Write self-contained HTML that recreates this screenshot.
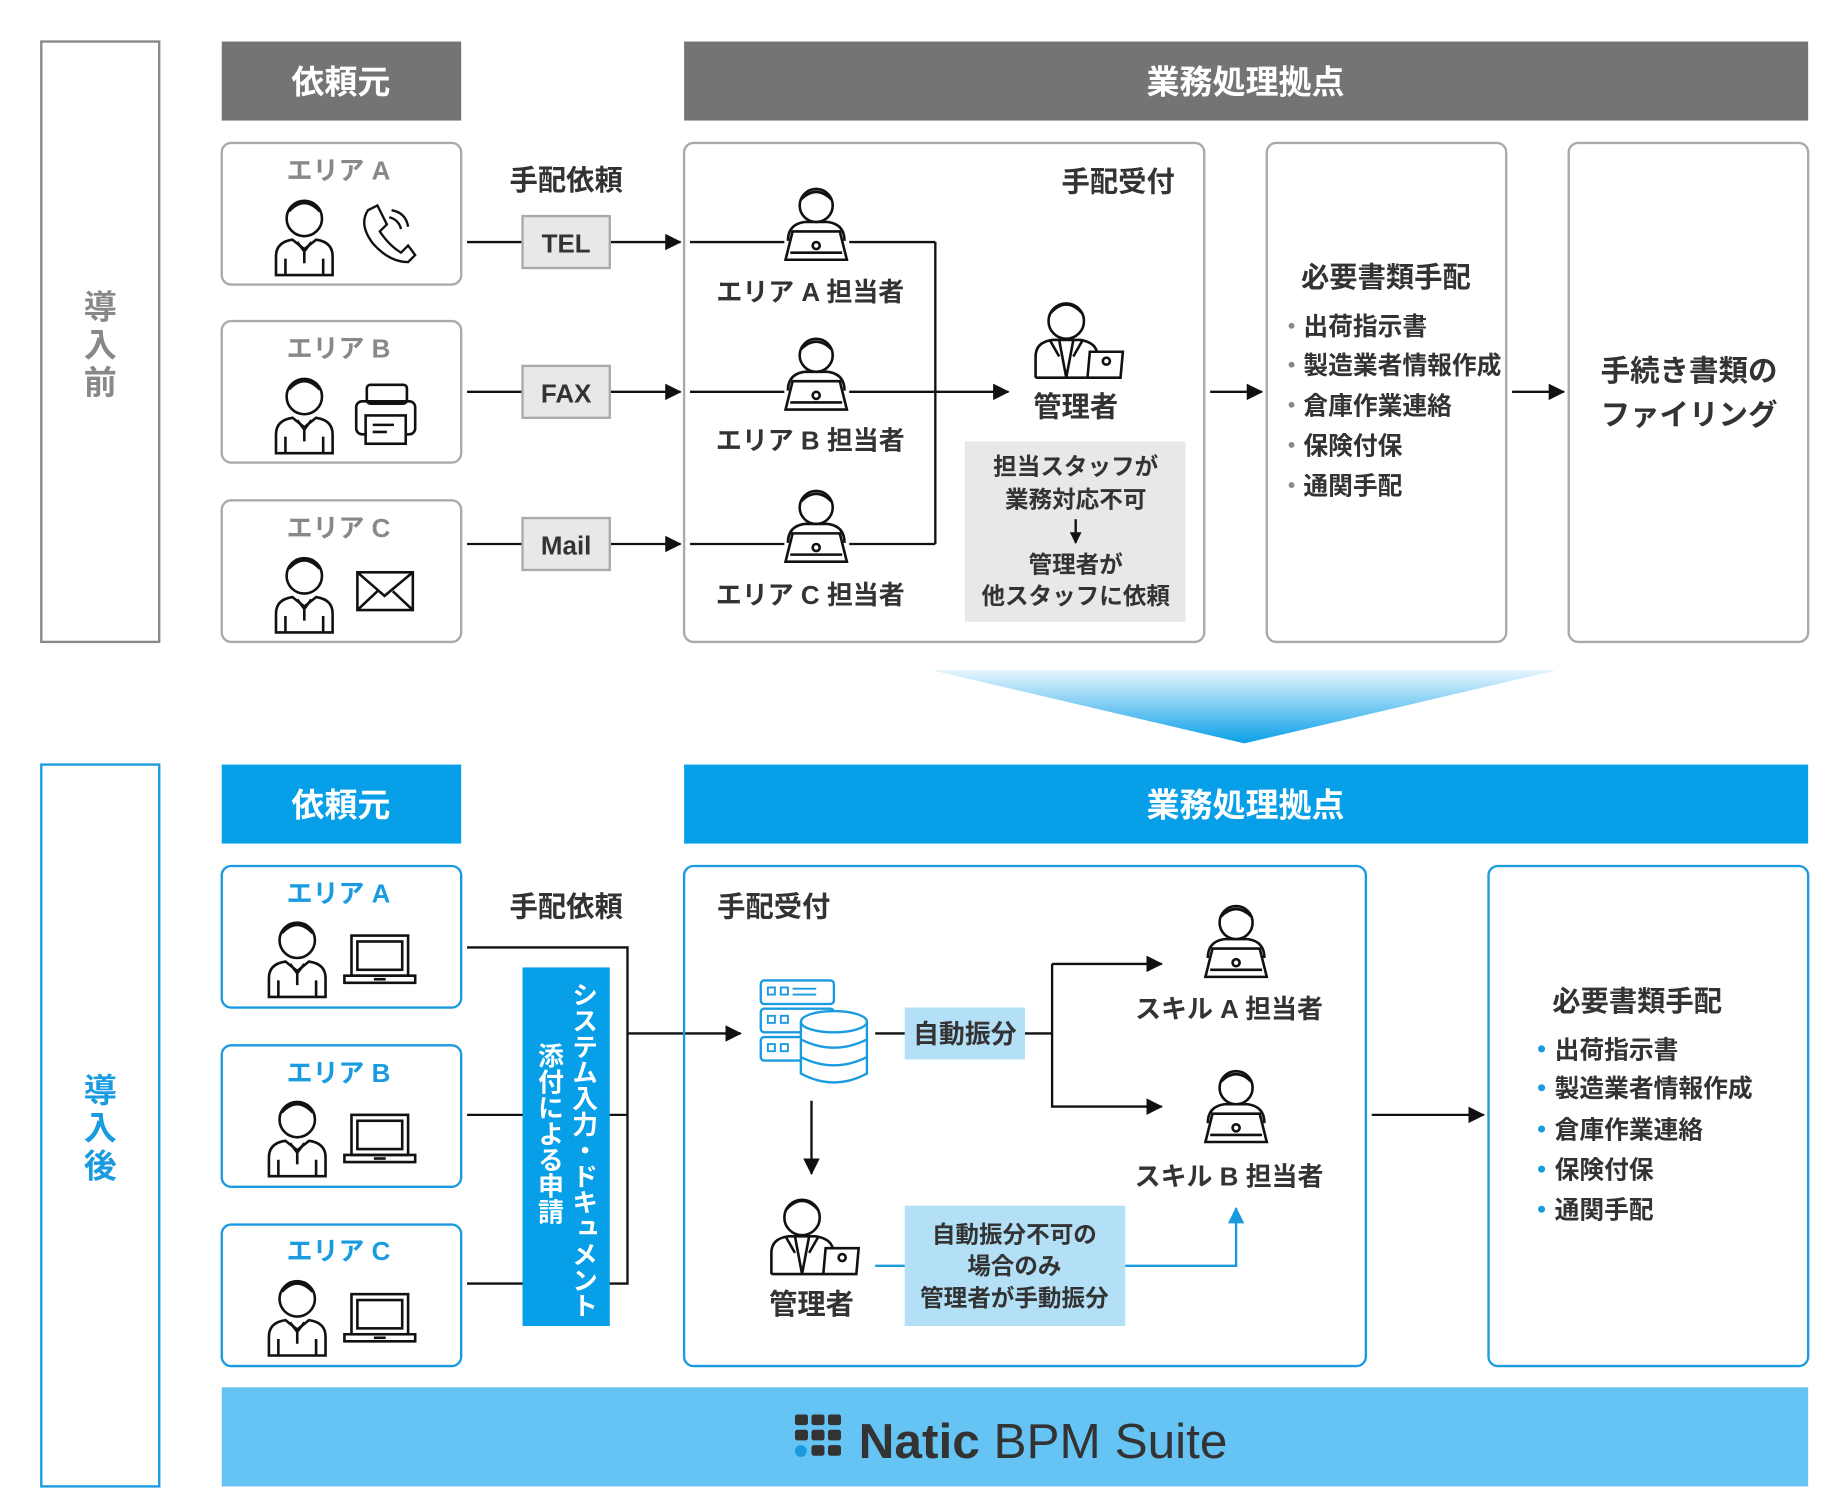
<!DOCTYPE html>
<html><head><meta charset="utf-8"><style>
html,body{margin:0;padding:0;background:#fff;}
svg{display:block;}
text{font-family:"Liberation Sans","Noto Sans CJK JP",sans-serif;font-weight:bold;}
</style></head><body>
<svg width="1840" height="1502" viewBox="0 0 1560 1273" xmlns="http://www.w3.org/2000/svg">
<defs>
<marker id="ar" markerWidth="10" markerHeight="10" refX="9" refY="5" orient="auto" markerUnits="userSpaceOnUse"><path d="M0,0L10,5L0,10Z" fill="#111"/></marker>
<marker id="arb" markerWidth="14" markerHeight="14" refX="13" refY="7" orient="auto" markerUnits="userSpaceOnUse"><path d="M0,0L14,7L0,14Z" fill="#111"/></marker>
<marker id="arl" markerWidth="14" markerHeight="14" refX="13" refY="7" orient="auto" markerUnits="userSpaceOnUse"><path d="M0,0L14,7L0,14Z" fill="#1a9be0"/></marker>
<linearGradient id="tg" x1="0" y1="0" x2="0" y2="1"><stop offset="0" stop-color="#e6f5fd"/><stop offset="1" stop-color="#0aa0e8"/></linearGradient>
<g id="person" fill="none" stroke="#111" stroke-width="2.2">
<circle cx="0" cy="-20" r="15"/>
<path d="M-13,-26 Q0,-40 13,-26"/>
<path d="M-24,28 L-24,12 Q-24,0 -10,-2 L0,6 L10,-2 Q24,0 24,12 L24,28 Z"/>
<path d="M-6,0 L0,8 L6,0 M0,8 L0,18 M-16,14 L-16,28 M16,14 L16,28"/>
</g>
<g id="worker" fill="none" stroke="#111" stroke-width="2.2">
<circle cx="0" cy="-18" r="14"/>
<path d="M-13,-23 Q0,-36 13,-23"/>
<path d="M-24,12 Q-24,-2 -10,-4 L10,-4 Q24,-2 24,12"/>
<path d="M-26,28 L-20,4 L20,4 L26,28 Z" fill="#fff"/>
<circle cx="0" cy="16" r="3"/>
<line x1="-22" y1="22" x2="22" y2="22"/>
</g>
<g id="manager" fill="none" stroke="#111" stroke-width="2.2">
<circle cx="-10" cy="-18" r="15"/>
<path d="M-24,-24 Q-10,-40 4,-24"/>
<path d="M-36,30 L-36,12 Q-36,0 -22,-2 L2,-2 Q14,0 16,8"/>
<path d="M-16,-2 L-10,30 L-4,-2 M-24,-2 L-16,12 M4,-2 L-4,12"/>
<path d="M10,8 L38,8 L36,30 L8,30 Z" fill="#fff"/><circle cx="24" cy="16" r="3"/>
<line x1="-36" y1="30" x2="8" y2="30"/>
</g>
<g id="laptop" fill="none" stroke="#111" stroke-width="2.2">
<rect x="-24" y="-22" width="48" height="34"/><rect x="-19" y="-17" width="38" height="24"/>
<path d="M-30,12 L30,12 L30,18 L-30,18 Z"/><line x1="-5" y1="15" x2="5" y2="15"/>
</g>
</defs>

<!-- ===== TOP ===== -->
<rect x="35" y="35" width="100" height="509" fill="none" stroke="#888" stroke-width="2"/>
<text x="85" y="270" font-size="28" fill="#888" text-anchor="middle">導</text>
<text x="85" y="302" font-size="28" fill="#888" text-anchor="middle">入</text>
<text x="85" y="334" font-size="28" fill="#888" text-anchor="middle">前</text>

<rect x="188" y="35" width="203" height="67" fill="#767374"/>
<text x="289" y="79" font-size="28" fill="#fff" text-anchor="middle">依頼元</text>
<rect x="580" y="35" width="953" height="67" fill="#767374"/>
<text x="1056" y="79" font-size="28" fill="#fff" text-anchor="middle">業務処理拠点</text>

<g fill="none" stroke="#aaa" stroke-width="2">
<rect x="188" y="121" width="203" height="120" rx="8"/>
<rect x="188" y="272" width="203" height="120" rx="8"/>
<rect x="188" y="424" width="203" height="120" rx="8"/>
</g>
<text x="287" y="152" font-size="22" fill="#888" text-anchor="middle">エリア A</text>
<text x="287" y="303" font-size="22" fill="#888" text-anchor="middle">エリア B</text>
<text x="287" y="455" font-size="22" fill="#888" text-anchor="middle">エリア C</text>
<use href="#person" x="258" y="205"/>
<use href="#person" x="258" y="356"/>
<use href="#person" x="258" y="508"/>
<path d="M312,178 L320,174 L328,190 L322,196 Q330,208 340,214 L346,208 L352,216 L346,222 Q330,222 316,206 Q304,190 312,178 Z" fill="none" stroke="#111" stroke-width="2"/>
<path d="M330,184 Q338,186 340,194 M332,178 Q344,180 346,192" fill="none" stroke="#111" stroke-width="2"/>
<g fill="none" stroke="#111" stroke-width="2.2"><rect x="311" y="326" width="34" height="16" rx="3"/><rect x="302" y="340" width="50" height="28" rx="5"/><rect x="310" y="352" width="34" height="24" fill="#fff"/><line x1="316" y1="360" x2="334" y2="360"/><line x1="316" y1="366" x2="328" y2="366"/></g>
<g fill="none" stroke="#111" stroke-width="2.2"><rect x="303" y="485" width="47" height="32"/><path d="M303,485 L326,505 L350,485 M303,517 L320,501 M350,517 L333,501"/></g>

<text x="480" y="161" font-size="24" fill="#333" text-anchor="middle">手配依頼</text>
<g stroke="#111" stroke-width="2" fill="none">
<line x1="396" y1="205" x2="443" y2="205"/><line x1="517" y1="205" x2="577" y2="205" marker-end="url(#arb)"/>
<line x1="396" y1="332" x2="443" y2="332"/><line x1="517" y1="332" x2="577" y2="332" marker-end="url(#arb)"/>
<line x1="396" y1="461" x2="443" y2="461"/><line x1="517" y1="461" x2="577" y2="461" marker-end="url(#arb)"/>
</g>
<g fill="#e8e8e8" stroke="#aaa" stroke-width="2">
<rect x="443" y="183" width="74" height="44"/><rect x="443" y="310" width="74" height="44"/><rect x="443" y="439" width="74" height="44"/>
</g>
<text x="480" y="214" font-size="22" fill="#333" text-anchor="middle">TEL</text>
<text x="480" y="341" font-size="22" fill="#333" text-anchor="middle">FAX</text>
<text x="480" y="470" font-size="22" fill="#333" text-anchor="middle">Mail</text>

<rect x="580" y="121" width="441" height="423" rx="8" fill="none" stroke="#aaa" stroke-width="2"/>
<text x="948" y="162" font-size="24" fill="#333" text-anchor="middle">手配受付</text>
<g stroke="#111" stroke-width="2" fill="none">
<line x1="585" y1="205" x2="665" y2="205"/><line x1="720" y1="205" x2="793" y2="205"/>
<line x1="585" y1="332" x2="665" y2="332"/><line x1="720" y1="332" x2="855" y2="332" marker-end="url(#arb)"/>
<line x1="585" y1="461" x2="665" y2="461"/><line x1="720" y1="461" x2="793" y2="461"/>
<line x1="793" y1="205" x2="793" y2="461"/>
</g>
<use href="#worker" x="692" y="192"/>
<use href="#worker" x="692" y="319"/>
<use href="#worker" x="692" y="448"/>
<text x="687" y="255" font-size="22" fill="#333" text-anchor="middle">エリア A 担当者</text>
<text x="687" y="381" font-size="22" fill="#333" text-anchor="middle">エリア B 担当者</text>
<text x="687" y="512" font-size="22" fill="#333" text-anchor="middle">エリア C 担当者</text>
<use href="#manager" x="914" y="290"/>
<text x="912" y="353" font-size="24" fill="#333" text-anchor="middle">管理者</text>
<rect x="818" y="374" width="187" height="153" fill="#e8e8e8"/>
<g font-size="20" fill="#333" text-anchor="middle">
<text x="912" y="402">担当スタッフが</text><text x="912" y="430">業務対応不可</text>
<text x="912" y="485">管理者が</text><text x="912" y="512">他スタッフに依頼</text></g>
<line x1="912" y1="440" x2="912" y2="460" stroke="#111" stroke-width="2" marker-end="url(#ar)"/>

<line x1="1026" y1="332" x2="1070" y2="332" stroke="#111" stroke-width="2" marker-end="url(#arb)"/>
<rect x="1074" y="121" width="203" height="423" rx="8" fill="none" stroke="#aaa" stroke-width="2"/>
<text x="1175" y="243" font-size="24" fill="#333" text-anchor="middle">必要書類手配</text>
<g font-size="21" fill="#333">
<text x="1105" y="284">出荷指示書</text><text x="1105" y="317">製造業者情報作成</text><text x="1105" y="351">倉庫作業連絡</text><text x="1105" y="385">保険付保</text><text x="1105" y="419">通関手配</text></g>
<g fill="#888"><circle cx="1095" cy="276" r="2.5"/><circle cx="1095" cy="309" r="2.5"/><circle cx="1095" cy="343" r="2.5"/><circle cx="1095" cy="377" r="2.5"/><circle cx="1095" cy="411" r="2.5"/></g>
<line x1="1282" y1="332" x2="1326" y2="332" stroke="#111" stroke-width="2" marker-end="url(#arb)"/>
<rect x="1330" y="121" width="203" height="423" rx="8" fill="none" stroke="#aaa" stroke-width="2"/>
<text x="1432" y="323" font-size="25" fill="#333" text-anchor="middle">手続き書類の</text>
<text x="1432" y="360" font-size="25" fill="#333" text-anchor="middle">ファイリング</text>

<polygon points="790,568 1320,568 1055,630" fill="url(#tg)"/>

<!-- ===== BOTTOM ===== -->
<rect x="35" y="648" width="100" height="612" fill="none" stroke="#1a9be0" stroke-width="2"/>
<text x="85" y="934" font-size="28" fill="#1a9be0" text-anchor="middle">導</text>
<text x="85" y="966" font-size="28" fill="#1a9be0" text-anchor="middle">入</text>
<text x="85" y="998" font-size="28" fill="#1a9be0" text-anchor="middle">後</text>

<rect x="188" y="648" width="203" height="67" fill="#069fe8"/>
<text x="289" y="692" font-size="28" fill="#fff" text-anchor="middle">依頼元</text>
<rect x="580" y="648" width="953" height="67" fill="#069fe8"/>
<text x="1056" y="692" font-size="28" fill="#fff" text-anchor="middle">業務処理拠点</text>

<g fill="none" stroke="#1a9be0" stroke-width="2">
<rect x="188" y="734" width="203" height="120" rx="8"/>
<rect x="188" y="886" width="203" height="120" rx="8"/>
<rect x="188" y="1038" width="203" height="120" rx="8"/>
</g>
<text x="287" y="765" font-size="22" fill="#1a9be0" text-anchor="middle">エリア A</text>
<text x="287" y="917" font-size="22" fill="#1a9be0" text-anchor="middle">エリア B</text>
<text x="287" y="1068" font-size="22" fill="#1a9be0" text-anchor="middle">エリア C</text>
<use href="#person" x="252" y="817"/><use href="#laptop" x="322" y="815"/>
<use href="#person" x="252" y="969"/><use href="#laptop" x="322" y="967"/>
<use href="#person" x="252" y="1121"/><use href="#laptop" x="322" y="1119"/>

<text x="480" y="777" font-size="24" fill="#333" text-anchor="middle">手配依頼</text>
<g stroke="#111" stroke-width="2" fill="none">
<polyline points="396,803 532,803 532,1088 396,1088"/>
<line x1="396" y1="945" x2="532" y2="945"/>
<line x1="532" y1="876" x2="628" y2="876" marker-end="url(#arb)"/>
</g>
<rect x="443" y="820" width="74" height="304" fill="#069fe8"/>
<text font-size="22" fill="#fff" style="writing-mode:vertical-rl" x="494" y="832">システム入力・ドキュメント</text>
<text font-size="22" fill="#fff" style="writing-mode:vertical-rl" x="465" y="884">添付による申請</text>

<rect x="580" y="734" width="578" height="424" rx="8" fill="none" stroke="#1a9be0" stroke-width="2"/>
<text x="656" y="777" font-size="24" fill="#333" text-anchor="middle">手配受付</text>
<g fill="#fff" stroke="#1a9be0" stroke-width="2">
<rect x="645" y="831" width="62" height="20" rx="3"/><rect x="645" y="855" width="62" height="20" rx="3"/><rect x="645" y="879" width="62" height="20" rx="3"/>
<path d="M679,866 L679,910 Q707,925 735,910 L735,866"/>
<ellipse cx="707" cy="866" rx="28" ry="9"/>
<path d="M679,881 Q707,895 735,881 M679,896 Q707,910 735,896" fill="none"/>
</g>
<g fill="none" stroke="#1a9be0" stroke-width="1.6"><rect x="651" y="837" width="6" height="6"/><rect x="662" y="837" width="6" height="6"/><rect x="651" y="861" width="6" height="6"/><rect x="662" y="861" width="6" height="6"/><rect x="651" y="885" width="6" height="6"/><rect x="662" y="885" width="6" height="6"/><line x1="672" y1="838" x2="692" y2="838"/><line x1="672" y1="843" x2="692" y2="843"/></g>

<line x1="742" y1="876" x2="768" y2="876" stroke="#111" stroke-width="2"/>
<rect x="767" y="854" width="102" height="44" fill="#b3e0f7"/>
<text x="818" y="884" font-size="22" fill="#333" text-anchor="middle">自動振分</text>
<g stroke="#111" stroke-width="2" fill="none">
<polyline points="869,876 892,876"/>
<polyline points="892,817 892,938 985,938" marker-end="url(#arb)"/>
<line x1="892" y1="817" x2="985" y2="817" marker-end="url(#arb)"/>
<line x1="688" y1="933" x2="688" y2="995" marker-end="url(#arb)"/>
</g>
<use href="#worker" x="1048" y="800"/>
<use href="#worker" x="1048" y="940"/>
<text x="1042" y="863" font-size="22" fill="#333" text-anchor="middle">スキル A 担当者</text>
<text x="1042" y="1005" font-size="22" fill="#333" text-anchor="middle">スキル B 担当者</text>
<use href="#manager" x="690" y="1050"/>
<text x="688" y="1114" font-size="24" fill="#333" text-anchor="middle">管理者</text>
<line x1="742" y1="1073" x2="768" y2="1073" stroke="#1a9be0" stroke-width="2"/>
<rect x="767" y="1022" width="187" height="102" fill="#b3e0f7"/>
<g font-size="20" fill="#333" text-anchor="middle">
<text x="860" y="1053">自動振分不可の</text><text x="860" y="1080">場合のみ</text><text x="860" y="1107">管理者が手動振分</text></g>
<polyline points="954,1073 1048,1073 1048,1024" fill="none" stroke="#1a9be0" stroke-width="2" marker-end="url(#arl)"/>

<line x1="1163" y1="945" x2="1258" y2="945" stroke="#111" stroke-width="2" marker-end="url(#arb)"/>
<rect x="1262" y="734" width="271" height="424" rx="8" fill="none" stroke="#1a9be0" stroke-width="2"/>
<text x="1388" y="857" font-size="24" fill="#333" text-anchor="middle">必要書類手配</text>
<g font-size="21" fill="#333">
<text x="1318" y="897">出荷指示書</text><text x="1318" y="930">製造業者情報作成</text><text x="1318" y="965">倉庫作業連絡</text><text x="1318" y="999">保険付保</text><text x="1318" y="1033">通関手配</text></g>
<g fill="#1a9be0"><circle cx="1307" cy="889" r="3"/><circle cx="1307" cy="922" r="3"/><circle cx="1307" cy="957" r="3"/><circle cx="1307" cy="991" r="3"/><circle cx="1307" cy="1025" r="3"/></g>

<rect x="188" y="1176" width="1345" height="84" fill="#66c4f5"/>
<g fill="#333">
<rect x="674" y="1199" width="11" height="9" rx="2"/><rect x="688" y="1199" width="11" height="9" rx="2"/><rect x="702" y="1199" width="11" height="9" rx="2"/>
<rect x="674" y="1212" width="11" height="9" rx="2"/><rect x="688" y="1212" width="11" height="9" rx="2"/><rect x="702" y="1212" width="11" height="9" rx="2"/>
<rect x="688" y="1225" width="11" height="9" rx="2"/><rect x="702" y="1225" width="11" height="9" rx="2"/>
</g>
<circle cx="679" cy="1230" r="5" fill="#1a9be0"/>
<text x="728" y="1236" font-size="42" fill="#333"><tspan font-weight="bold">Natic</tspan><tspan font-weight="normal"> BPM Suite</tspan></text>
</svg>
</body></html>
